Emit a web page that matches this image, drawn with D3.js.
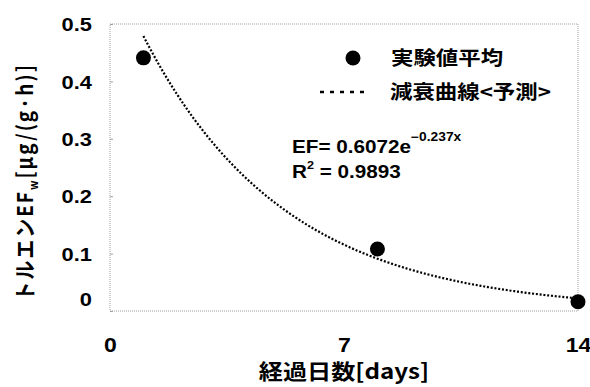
<!DOCTYPE html>
<html>
<head>
<meta charset="utf-8">
<script src="https://cdn.jsdelivr.net/npm/d3@7"></script>
<style>
  body { margin: 0; background: #fff; }
  text { font-family: "Liberation Sans", "Noto Sans CJK JP", sans-serif; font-weight: bold; fill: #000; }
  .jp { font-family: "Noto Sans CJK JP", sans-serif; }
</style>
</head>
<body>
<svg id="chart" width="590" height="387"></svg>
<script>
// measured averages
const days = [1, 8, 14];
const efValues = [0.441, 0.108, 0.016];

// fitted decay curve shown on the chart: EF = a * e^(b x)
const fitA = 0.6072;
const fitB = -0.237;
const fitR2 = 0.9893;
const fitRange = [1, 14];

const xTicks = [0, 7, 14];
const yTicks = [0, 0.1, 0.2, 0.3, 0.4, 0.5];

const width = 590, height = 387;
const margin = { top: 24, right: 12, bottom: 76, left: 110 };
const sx = 1.15; // text in the original is a bit wider than normal

const svg = d3.select('#chart');

const x = d3.scaleLinear()
    .domain([0, 14])
    .range([margin.left, width - margin.right]);

const y = d3.scaleLinear()
    .domain([0, 0.5])
    .range([height - margin.bottom, margin.top]);

// plot frame (thin dotted grey)
svg.append('rect')
    .attr('x', x(0))
    .attr('y', y(0.5))
    .attr('width', x(14) - x(0))
    .attr('height', y(0) - y(0.5))
    .attr('fill', 'none')
    .attr('stroke', '#a0a0a0')
    .attr('stroke-width', 1)
    .attr('stroke-dasharray', '1,1');

// y axis
const yAxis = svg.append('g')
    .attr('transform', `translate(${x(0)},0)`)
    .call(d3.axisLeft(y).tickValues(yTicks).tickSize(-3)
        .tickFormat(d => d === 0 ? '0' : d3.format('.1f')(d)));
yAxis.select('.domain').remove();
yAxis.selectAll('line').attr('stroke', '#a0a0a0');
// the "0" label sits a little above the bottom line in the original
yAxis.selectAll('text')
    .attr('x', 0)
    .attr('dy', '0.35em')
    .attr('transform', d => `translate(-18,${d === 0 ? -12 : 0}) scale(${sx},1)`)
    .style('font-size', '19px');

// x axis
const xAxis = svg.append('g')
    .attr('transform', `translate(0,${y(0)})`)
    .call(d3.axisBottom(x).tickValues(xTicks).tickSize(0));
xAxis.select('.domain').remove();
xAxis.selectAll('text')
    .attr('y', 0)
    .attr('dy', 0)
    .attr('transform', `translate(0,41) scale(${sx},1)`)
    .style('font-size', '20px');

// decay curve
const curvePts = d3.range(fitRange[0], fitRange[1] + 0.001, 0.1)
    .map(t => [t, fitA * Math.exp(fitB * t)]);

const line = d3.line()
    .x(d => x(d[0]))
    .y(d => y(d[1]))
    .curve(d3.curveMonotoneX);

svg.append('path')
    .datum(curvePts)
    .attr('d', line)
    .attr('fill', 'none')
    .attr('stroke', '#000')
    .attr('stroke-width', 2.2)
    .attr('stroke-dasharray', '2,1.8');

// measured points
svg.selectAll('.pt')
    .data(days)
    .enter().append('circle')
    .attr('class', 'pt')
    .attr('cx', d => x(d))
    .attr('cy', (d, i) => y(efValues[i]))
    .attr('r', 7.5)
    .attr('fill', '#000');

// helper: stretched text
function label(px, py, size, cls) {
    return svg.append('text')
        .attr('class', cls || null)
        .attr('transform', `translate(${px},${py}) scale(${sx},1)`)
        .style('font-size', size + 'px');
}

// legend
svg.append('circle')
    .attr('cx', 353)
    .attr('cy', 58)
    .attr('r', 7.5)
    .attr('fill', '#000');
label(391, 65, 19.5, 'jp').text('実験値平均');
svg.append('line')
    .attr('x1', 320)
    .attr('x2', 368)
    .attr('y1', 92)
    .attr('y2', 92)
    .attr('stroke', '#000')
    .attr('stroke-width', 2.5)
    .attr('stroke-dasharray', '4,6');
label(390, 99, 19.5, 'jp').text('減衰曲線<予測>');

// equation
const eq = label(292, 153, 18);
eq.append('tspan').text(`EF= ${fitA}e`);
eq.append('tspan')
    .attr('dy', -12)
    .style('font-size', '12px')
    .text(`\u2212${Math.abs(fitB)}x`);

const r2 = label(292, 178, 18);
r2.append('tspan').text('R');
r2.append('tspan').attr('dy', -9).style('font-size', '11px').text('2');
r2.append('tspan').attr('dy', 9).text(` = ${fitR2}`);

// axis titles
label(x(7), 379, 21, 'jp')
    .attr('text-anchor', 'middle')
    .text('経過日数[days]');

const yTitle = svg.append('text')
    .attr('class', 'jp')
    .attr('transform', `translate(33,182) scale(${sx},1) rotate(-90)`)
    .attr('text-anchor', 'middle')
    .style('font-size', '19px')
    .style('letter-spacing', '2px');
yTitle.append('tspan').text('トルエンEF');
yTitle.append('tspan').attr('dy', 4).style('font-size', '11px').text('w');
yTitle.append('tspan').attr('dy', -4).text('[μg/(g·h)]');
</script>
</body>
</html>
